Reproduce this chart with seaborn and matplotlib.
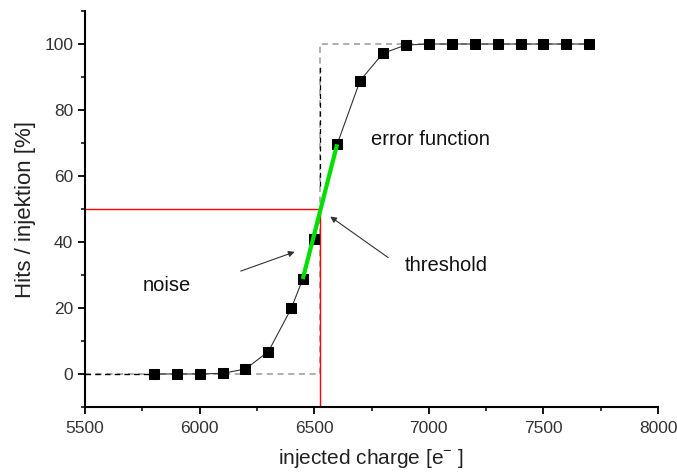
import matplotlib
matplotlib.use("Agg")
import matplotlib.pyplot as plt
import seaborn as sns
import pandas as pd
from matplotlib.ticker import MultipleLocator

charge = [5800, 5900, 6000, 6100, 6200, 6300, 6400, 6450, 6500, 6600, 6700, 6800,
          6900, 7000, 7100, 7200, 7300, 7400, 7500, 7600, 7700]
hits = [0.0, 0.0, 0.0, 0.2, 1.5, 6.8, 19.9, 28.8, 40.8, 69.6, 88.9, 97.2,
        99.7, 100.0, 100.0, 100.0, 100.0, 100.0, 100.0, 100.0, 100.0]
threshold = 6527
step_x = [5500, threshold, threshold, 7700]
step_y = [0, 0, 100, 100]
slope_x = [6450, 6600]
slope_y = [28.8, 69.6]

sns.set_theme(style="ticks")
plt.rcParams['font.family'] = ['Liberation Sans', 'DejaVu Sans']

fig = plt.figure(figsize=(6.77, 4.75), dpi=100)
ax = fig.add_axes([0.1256, 0.1432, 0.8464, 0.8336])

df = pd.DataFrame({"charge": charge, "hits": hits})

# step reference (ideal response)
ax.plot(step_x, step_y, color="#999999", lw=1.1, ls=(0, (4, 3)), zorder=1)
ax.plot([5500, 5800], [0, 0], color="black", lw=1.0, ls=(0, (4, 3)), zorder=1)
ax.plot([threshold, threshold], [57, 93], color="black", lw=0.9, ls=(0, (4, 3)), zorder=1)

# threshold lines
ax.plot([5500, threshold], [50, 50], color="red", lw=1.0, zorder=2)
ax.plot([threshold, threshold], [-10, 50], color="red", lw=1.0, zorder=2)

sns.lineplot(data=df, x="charge", y="hits", ax=ax, color="#333333", lw=0.8,
             marker="s", markersize=7.5, markerfacecolor="black",
             markeredgecolor="black", zorder=3)

ax.plot(slope_x, slope_y, color="#00e000", lw=3, solid_capstyle="butt", zorder=4)

ax.set_xlim(5500, 8000)
ax.set_ylim(-10, 110)
ax.xaxis.set_major_locator(MultipleLocator(500))
ax.xaxis.set_minor_locator(MultipleLocator(250))
ax.yaxis.set_major_locator(MultipleLocator(20))
ax.yaxis.set_minor_locator(MultipleLocator(10))
ax.set_yticks([0, 20, 40, 60, 80, 100])
ax.tick_params(which="major", direction="out", length=5, width=1.3, colors="black",
               labelcolor="#333333", labelsize=12.5)
ax.tick_params(axis="x", which="major", pad=5)
ax.tick_params(which="minor", direction="out", length=3, width=1.1, colors="black")
for s in ["top", "right"]:
    ax.spines[s].set_visible(False)
for s in ["left", "bottom"]:
    ax.spines[s].set_linewidth(1.5)
    ax.spines[s].set_color("black")

ax.set_xlabel("injected charge [e$^{\\mathregular{-}}$ ]", fontsize=15, color="#222222", labelpad=8)
ax.set_ylabel("Hits / injektion [%]", fontsize=16, color="#222222", labelpad=6)

ax.annotate("", xy=(6426, 37.3), xytext=(6168, 30.9),
            arrowprops=dict(arrowstyle="-|>", color="#333333", lw=0.8,
                            mutation_scale=9))
ax.annotate("", xy=(6560, 48.2), xytext=(6832, 34.8),
            arrowprops=dict(arrowstyle="-|>", color="#333333", lw=0.8,
                            mutation_scale=9))
ax.text(5858, 26.7, "noise", fontsize=14.5, ha="center", va="center", color="#111111")
ax.text(6893, 32.8, "threshold", fontsize=14.5, ha="left", va="center", color="#111111")
ax.text(6749, 71, "error function", fontsize=14.5, ha="left", va="center", color="#111111")

fig.savefig("out.png", dpi=100)
